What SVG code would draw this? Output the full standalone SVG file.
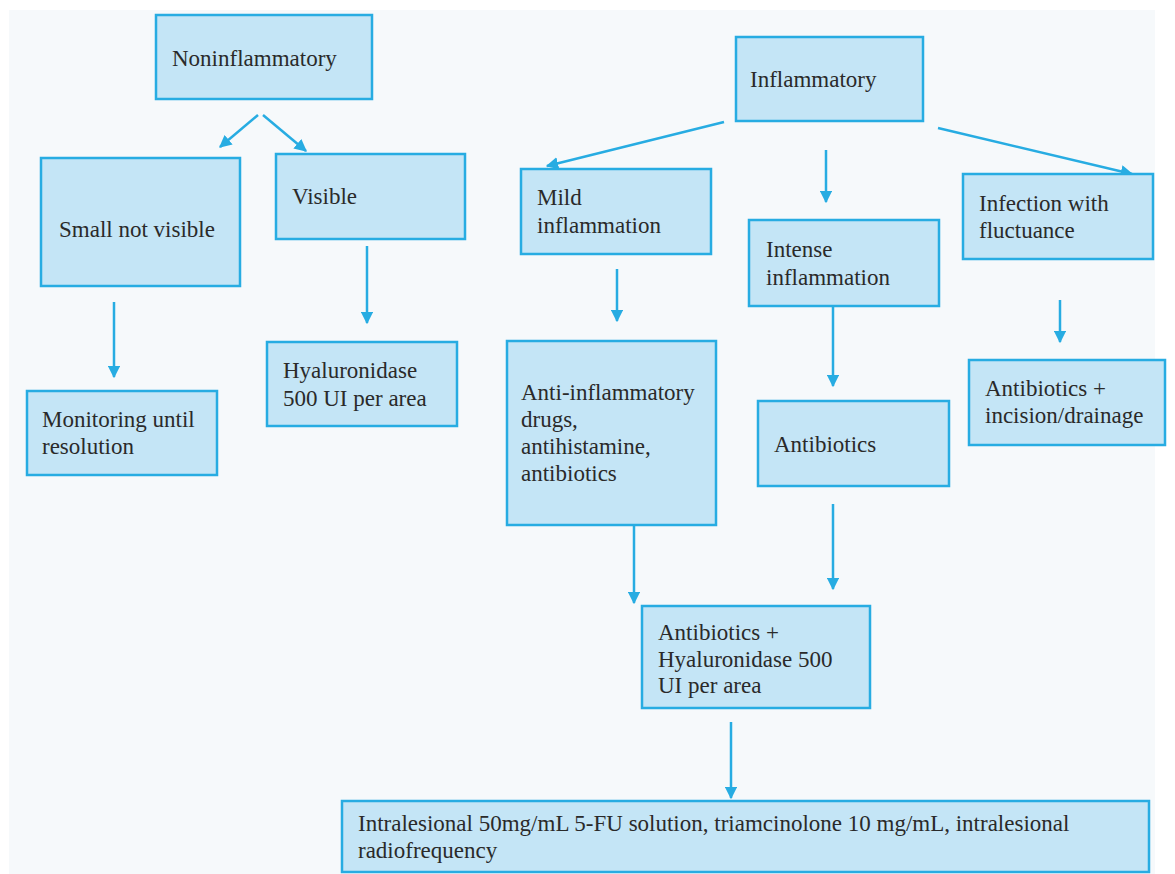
<svg xmlns="http://www.w3.org/2000/svg" width="1175" height="874" viewBox="0 0 1175 874">
<defs>
<style>
.box{fill:#c4e5f6;stroke:#27ace2;stroke-width:2.5}
.t{font-size:23px;fill:#2a2a2a}
.c{stroke:#27ace2;stroke-width:2.5;fill:none;marker-end:url(#ah)}
</style>
<marker id="ah" viewBox="0 0 10 10" refX="9" refY="5" markerWidth="5" markerHeight="5" markerUnits="strokeWidth" orient="auto">
<path d="M0,0 L10,5 L0,10 Z" fill="#27ace2"/>
</marker>
</defs>
<rect x="0" y="0" width="1175" height="874" fill="#ffffff"/>
<rect x="9" y="10" width="1146" height="864" fill="#f6f9fb"/>
<g id="connectors">
<line class="c" x1="258" y1="115" x2="220" y2="147"/>
<line class="c" x1="263" y1="115" x2="306" y2="151"/>
<line class="c" x1="114" y1="302" x2="114" y2="377"/>
<line class="c" x1="367" y1="246" x2="367" y2="323"/>
<line class="c" x1="724" y1="122" x2="547" y2="166"/>
<line class="c" x1="826" y1="150" x2="826" y2="202"/>
<line class="c" x1="938" y1="128" x2="1132" y2="174"/>
<line class="c" x1="617" y1="269" x2="617" y2="321"/>
<line class="c" x1="833" y1="306" x2="833" y2="386"/>
<line class="c" x1="1060" y1="300" x2="1060" y2="342"/>
<line class="c" x1="634" y1="525" x2="634" y2="603"/>
<line class="c" x1="833" y1="504" x2="833" y2="589"/>
<line class="c" x1="731" y1="722" x2="731" y2="798"/>
</g>
<g font-family="Liberation Serif, Tinos, Times New Roman, DejaVu Serif, serif">
<g id="n-noninflammatory"><rect class="box" x="156" y="15" width="216" height="84"/><text class="t" x="172" y="66">Noninflammatory</text></g>
<g id="n-small"><rect class="box" x="41" y="158" width="199" height="128"/><text class="t" x="59" y="237">Small not visible</text></g>
<g id="n-visible"><rect class="box" x="276" y="154" width="189" height="85"/><text class="t" x="292" y="204">Visible</text></g>
<g id="n-monitoring"><rect class="box" x="27" y="391" width="190" height="84"/><text class="t" x="42" y="427">Monitoring until</text><text class="t" x="42" y="454">resolution</text></g>
<g id="n-hyal"><rect class="box" x="267" y="342" width="190" height="84"/><text class="t" x="283" y="378">Hyaluronidase</text><text class="t" x="283" y="406">500 UI per area</text></g>
<g id="n-inflammatory"><rect class="box" x="736" y="37" width="187" height="84"/><text class="t" x="750" y="87">Inflammatory</text></g>
<g id="n-mild"><rect class="box" x="521" y="169" width="190" height="85"/><text class="t" x="537" y="205">Mild</text><text class="t" x="537" y="233">inflammation</text></g>
<g id="n-intense"><rect class="box" x="749" y="220" width="190" height="86"/><text class="t" x="766" y="257">Intense</text><text class="t" x="766" y="285">inflammation</text></g>
<g id="n-infection"><rect class="box" x="963" y="174" width="190" height="85"/><text class="t" x="979" y="211">Infection with</text><text class="t" x="979" y="238">fluctuance</text></g>
<g id="n-antiinfl"><rect class="box" x="507" y="341" width="209" height="184"/><text class="t" x="521" y="400">Anti-inflammatory</text><text class="t" x="521" y="427">drugs,</text><text class="t" x="521" y="454">antihistamine,</text><text class="t" x="521" y="481">antibiotics</text></g>
<g id="n-antibiotics"><rect class="box" x="758" y="401" width="191" height="85"/><text class="t" x="774" y="452">Antibiotics</text></g>
<g id="n-incision"><rect class="box" x="969" y="360" width="196" height="85"/><text class="t" x="985" y="396">Antibiotics +</text><text class="t" x="985" y="423">incision/drainage</text></g>
<g id="n-abhyal"><rect class="box" x="642" y="606" width="228" height="102"/><text class="t" x="658" y="640">Antibiotics +</text><text class="t" x="658" y="667">Hyaluronidase 500</text><text class="t" x="658" y="693">UI per area</text></g>
<g id="n-final"><rect class="box" x="342" y="801" width="807" height="71"/><text class="t" x="358" y="831">Intralesional 50mg/mL 5-FU solution, triamcinolone 10 mg/mL, intralesional</text><text class="t" x="358" y="858">radiofrequency</text></g>
</g>
</svg>
